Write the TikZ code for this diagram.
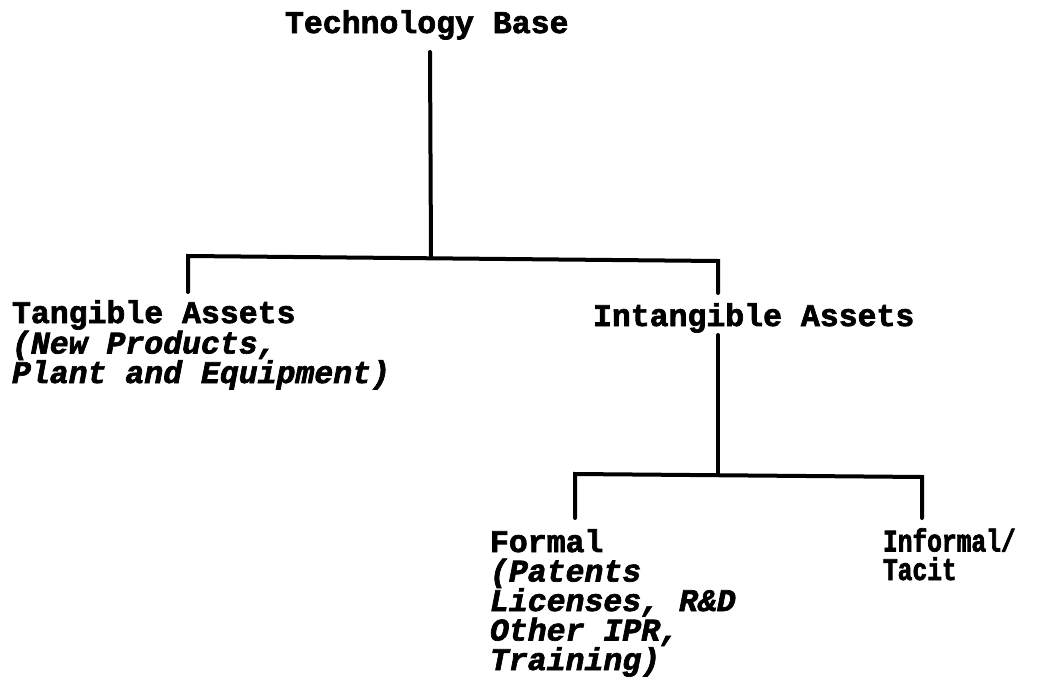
\documentclass[tikz,border=0pt]{standalone}
\usepackage{fontspec}
\newfontfamily\twfont[BoldFeatures={FakeBold=2.2},BoldItalicFeatures={FakeBold=2.2}]{Liberation Mono}
\newfontfamily\twnarrow[FakeStretch=0.78,BoldFeatures={FakeBold=2.2}]{Liberation Mono}
\begin{document}
\begin{tikzpicture}[x=1pt,y=-1pt,
  lbl/.style={inner sep=0pt, outer sep=0pt, anchor=base west, align=left,
    font=\twfont\bfseries\fontsize{31.5}{29.5}\selectfont},
  narrowlbl/.style={lbl, font=\twnarrow\bfseries\fontsize{31.5}{28.5}\selectfont},
  link/.style={line width=4pt, line cap=round, line join=miter, black}]
\useasboundingbox (0,0) rectangle (1045,696);
% labels (multi-line nodes are placed by the baseline of their last line)
\node[lbl] (tb) at (285,33) {Technology Base};
\node[lbl] (ta) at (12,383) {Tangible Assets\\\textit{(New Products,}\\\textit{Plant and Equipment)}};
\node[lbl] (ia) at (593,326) {Intangible Assets};
\node[lbl] (fo) at (490,670) {Formal\\\textit{(Patents}\\\textit{Licenses, R\&D}\\\textit{Other IPR,}\\\textit{Training)}};
\node[narrowlbl] (inf) at (883,580) {Informal/\\Tacit};
% junction points
\coordinate (tbstem) at (430,52);
\coordinate (j1) at (431,257);
\coordinate (lc) at (188,256);
\coordinate (le) at (188,292);
\coordinate (rc) at (718,261);
\coordinate (re) at (718,293);
\coordinate (iastem) at (718,335);
\coordinate (j2) at (718,475);
\coordinate (llc) at (575,474);
\coordinate (lle) at (575,518);
\coordinate (lrc) at (922,477);
\coordinate (lre) at (922,518);
% connectors
\draw[link] (tbstem) -- (j1);
\draw[link] (le) -- (lc) -- (rc) -- (re);
\draw[link] (iastem) -- (j2);
\draw[link] (lle) -- (llc) -- (lrc) -- (lre);
\end{tikzpicture}
\end{document}
